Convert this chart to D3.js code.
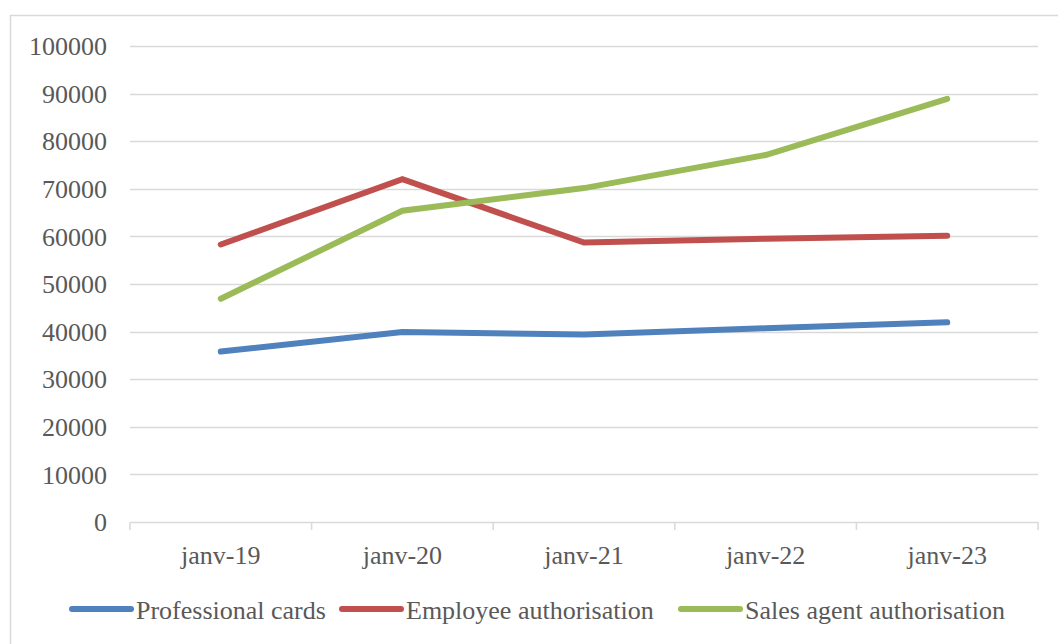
<!DOCTYPE html>
<html><head><meta charset="utf-8">
<script src="https://cdn.jsdelivr.net/npm/d3@7"></script>
<style>body{margin:0;background:#fff;}svg{display:block;}</style>
</head><body><svg id="c" width="1058" height="644"></svg>
<script>
const categories = ["janv-19","janv-20","janv-21","janv-22","janv-23"];
const professionalCards = [35800, 39900, 39400, 40700, 41950];
const employeeAuth = [58300, 72000, 58700, 59500, 60150];
const salesAgentAuth = [46900, 65400, 70150, 77100, 88900];
const yTicks = [0,10000,20000,30000,40000,50000,60000,70000,80000,90000,100000];
const seriesNames = ["Professional cards","Employee authorisation","Sales agent authorisation"];
const seriesColors = ["#4f81bd","#c0504d","#9bbb59"];

const series = [professionalCards, employeeAuth, salesAgentAuth];
const svg = d3.select("#c");
const font = "'Liberation Serif','Times New Roman',serif";
const textColor = "#595959";
const fs = 26;

// outer border
svg.append("rect").attr("x",10.5).attr("y",15.5).attr("width",1060).attr("height",640)
  .attr("fill","#fff").attr("stroke","#d9d9d9").attr("stroke-width",1.5);

const x = d3.scaleBand().domain(categories).range([130,1038]);
const y = d3.scaleLinear().domain([0,100000]).range([522,46]);

// gridlines
svg.append("g").selectAll("line").data(yTicks.filter(d=>d>0)).join("line")
  .attr("x1",130).attr("x2",1038)
  .attr("y1",d=>Math.round(y(d))+0.5).attr("y2",d=>Math.round(y(d))+0.5)
  .attr("stroke","#d9d9d9").attr("stroke-width",1.3);

// y labels
svg.append("g").selectAll("text").data(yTicks).join("text")
  .attr("x",107).attr("y",d=>y(d)).attr("dy","0.35em").attr("text-anchor","end")
  .attr("font-family",font).attr("font-size",fs).attr("fill",textColor)
  .text(d=>d);

// x axis
const xa = svg.append("g").attr("transform","translate(0,522)")
  .call(d3.axisBottom(x).tickSize(0).tickFormat(""));
xa.select(".domain").attr("stroke","#d9d9d9").attr("stroke-width",1.5);
const bounds = categories.map(c=>x(c)).concat([x.range()[1]]);
svg.append("g").selectAll("line").data(bounds).join("line")
  .attr("x1",d=>d).attr("x2",d=>d).attr("y1",522).attr("y2",530)
  .attr("stroke","#d9d9d9").attr("stroke-width",1.5);
svg.append("g").selectAll("text").data(categories).join("text")
  .attr("x",d=>x(d)+x.bandwidth()/2).attr("y",555).attr("dy","0.35em")
  .attr("text-anchor","middle").attr("font-family",font).attr("font-size",fs)
  .attr("fill",textColor).text(d=>d);

// lines
const line = d3.line().x((d,i)=>x(categories[i])+x.bandwidth()/2).y(d=>y(d));
series.forEach((s,i)=>{
  svg.append("path").datum(s).attr("d",line).attr("fill","none")
    .attr("stroke",seriesColors[i]).attr("stroke-width",6)
    .attr("stroke-linecap","round").attr("stroke-linejoin","miter");
});

// legend
const legX = [70, 340, 679];
const leg = svg.append("g");
seriesNames.forEach((n,i)=>{
  leg.append("line").attr("x1",legX[i]+2).attr("x2",legX[i]+61).attr("y1",609).attr("y2",609)
    .attr("stroke",seriesColors[i]).attr("stroke-width",6).attr("stroke-linecap","round");
  leg.append("text").attr("x",legX[i]+66).attr("y",610).attr("dy","0.35em")
    .attr("font-family",font).attr("font-size",fs).attr("fill",textColor).text(n);
});
</script></body></html>
